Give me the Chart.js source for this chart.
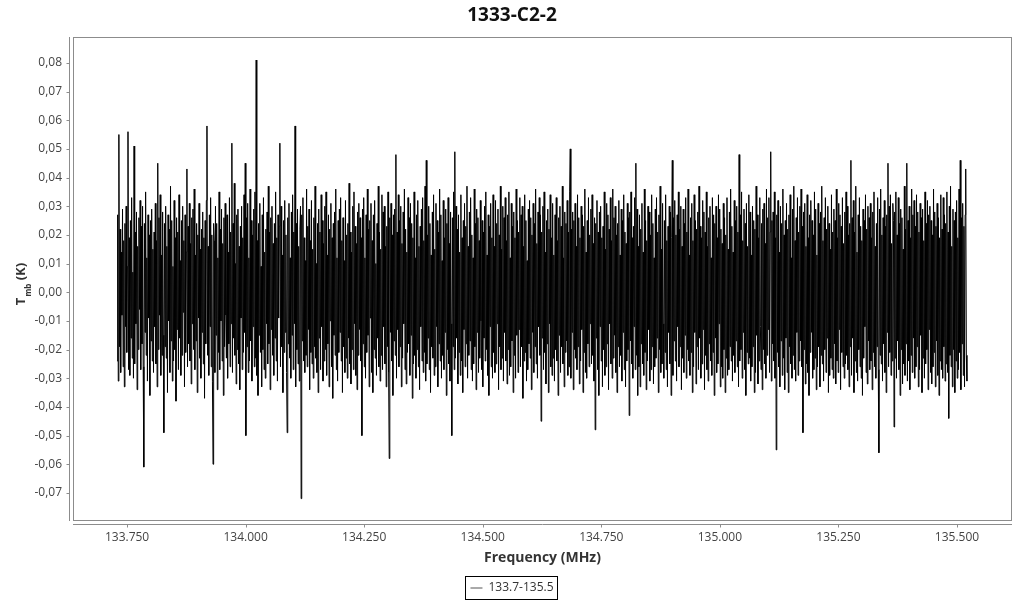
<!DOCTYPE html>
<html><head><meta charset="utf-8">
<script src="https://cdn.jsdelivr.net/npm/chart.js@4.4.1/dist/chart.umd.min.js"></script>
<style>html,body{margin:0;padding:0;background:#fff;}#wrap{width:1024px;height:600px;}</style>
</head><body><div id="wrap"><canvas id="c" width="1024" height="600"></canvas></div>
<script>
const chartTitle = '1333-C2-2';
const seriesName = '133.7-135.5';
const xAxisTitle = 'Frequency (MHz)';
const freqStartMHz = 133.7289;
const freqEndMHz = 135.5210;
// Tmb in mK (channel by channel estimate)
const tmbMilliK = [
-24,27,-31,55,-19,22,-28,14,-8,29,-26,18,-33,24,-12,30,-21,9,56,-27,
19,-29,25,-16,33,-23,7,-30,51,-25,21,-11,28,-34,16,-20,26,-6,32,-27,
23,-18,30,-26,-61,24,-14,35,-22,12,-31,27,-9,20,-36,25,-17,29,-24,15,
-28,21,-12,31,-25,18,-33,45,-20,26,-8,34,-29,13,-22,28,-15,-49,24,-19,
30,-23,16,-35,27,-10,22,-28,37,-17,25,-31,9,-24,32,-20,19,-38,26,-13,
21,-27,34,-16,11,-29,25,-22,30,-7,18,-33,27,-21,14,43,-26,23,-18,31,
-24,17,-32,26,-11,29,-20,36,-27,13,-17,24,-35,20,-9,31,-23,15,-30,22,
-14,28,-25,19,-37,25,-18,32,58,-22,16,-29,27,-12,33,-26,20,-31,-60,24,
18,-28,30,-15,24,-34,12,-21,35,-27,22,-10,29,-24,17,-36,26,-19,31,-8,
-23,27,-30,14,-18,33,-26,21,-11,52,-28,24,-16,38,-22,10,-32,27,-20,29,
-25,16,-34,23,-9,30,-27,19,-21,34,-14,45,-50,26,-19,31,-28,12,-24,36,
-17,25,-31,20,-12,29,-26,35,-23,81,-29,18,-36,24,-15,31,-21,9,-33,27,
-20,33,-27,14,-30,22,-11,28,-25,37,-18,21,-34,26,-13,30,-22,17,-29,24,
-16,35,-24,19,-31,27,-9,23,52,-26,30,-19,13,-35,25,-21,32,-14,20,-28,
-49,26,-18,31,-23,12,-30,28,-15,34,-27,21,-11,58,-33,24,-20,29,-25,16,
-31,22,30,-72,27,-17,33,-24,19,-28,11,-22,36,-26,23,-13,29,-34,18,-21,
32,-25,15,-30,26,-19,37,-23,10,-28,24,-35,29,-16,21,-27,34,-12,25,-31,
17,-24,30,-20,35,-29,13,-18,27,-33,22,-10,31,-26,19,-37,24,-15,28,-22,
36,-27,12,-31,25,-21,29,-14,33,-24,18,-35,26,-19,11,-28,32,-23,20,-30,
24,-16,38,-25,21,-32,14,-20,30,-27,35,-11,23,-29,17,-34,28,-22,31,-13,
26,-24,19,-50,29,-18,33,-26,12,-30,27,-21,36,-15,22,-33,25,-9,31,-28,
18,-35,27,-20,32,-23,10,-29,24,-16,37,-26,21,-31,15,-22,34,-27,28,-12,
30,-25,16,-33,23,-19,35,-28,-58,26,-14,31,-24,20,-36,27,-17,29,-22,48,
-30,21,-13,34,-26,25,-19,30,-33,17,-23,28,-11,36,-27,22,-32,14,-21,33,
-18,26,-29,31,-15,24,-37,19,-25,35,-22,12,-30,27,-20,32,-26,16,-34,23,
-12,29,-24,33,-28,18,-21,37,-31,46,-25,20,-16,30,-27,24,-35,13,-19,28,
-23,34,-29,15,-26,31,-12,25,-33,21,-18,36,-24,27,-30,11,-22,32,-27,19,
-14,29,-36,24,-20,33,-25,17,-31,28,-11,-50,26,-19,35,-27,49,-23,30,-16,
22,-32,27,-21,14,-29,34,-24,19,-35,25,-13,31,-26,23,-18,37,-30,16,-22,
28,-17,33,-27,20,-31,12,-25,36,-19,24,-34,29,-14,26,-28,18,-23,32,-10,
-27,25,-33,21,-16,30,-24,35,-20,13,-29,27,-36,23,-12,31,-26,19,-30,34,
-21,16,-28,32,-25,24,-11,29,-34,20,-19,37,-27,15,-23,30,-31,26,-14,33,
-24,18,-32,27,-20,35,-29,12,-26,31,-17,23,-35,28,-22,19,-30,36,-15,25,
-28,21,-13,33,-26,27,-19,30,-37,16,-24,34,-21,25,-31,11,-27,29,-18,32,
-23,26,-34,20,-14,31,-28,24,-19,36,-25,17,-30,28,-12,33,-22,27,-45,21,
-16,30,-27,35,-21,14,-32,25,-18,29,-35,22,-11,34,-26,19,-29,31,-23,13,
-31,27,-20,33,-24,18,-36,26,-15,30,-28,23,-19,37,-25,12,-33,28,-21,24,
-17,32,-29,21,-26,35,50,-30,22,-14,28,-34,25,-20,31,-23,16,-27,34,-19,
26,-32,19,-24,30,-13,27,-35,23,-21,36,-28,14,-30,25,-18,33,-26,20,-11,
29,-25,34,-22,17,-31,26,-48,24,-16,32,-27,21,-36,28,-12,30,-24,19,-33,
23,-20,35,-29,15,-26,31,-18,27,-34,22,-11,33,-25,18,-30,36,-23,26,-15,
30,-28,20,-35,24,-19,32,-26,13,-22,29,-31,25,-14,34,-27,21,-33,17,-24,
31,-20,26,-43,28,-17,35,-25,19,-30,23,-12,33,-27,45,-22,29,-36,16,-26,
27,-33,22,-18,31,-25,14,-29,36,-21,25,-34,18,-24,30,-13,28,-31,20,-27,
34,-19,24,-32,12,-26,29,-23,33,-16,21,-35,27,-20,37,-28,15,-25,31,-11,
-30,25,-21,34,-27,18,-33,23,-14,30,-25,28,-36,19,46,-29,26,-17,32,-24,
20,-31,27,-12,35,-26,22,-19,30,-34,16,-23,29,-28,24,-15,33,-30,21,-20,
36,-24,13,-29,26,-21,31,-35,18,-26,34,-14,25,-32,22,-19,28,-27,37,-16,
23,-30,19,-25,32,-13,28,-34,21,-22,35,-27,16,-31,26,-18,30,-24,12,-29,
33,-21,27,-36,24,-16,30,-28,19,-25,34,-11,29,-33,22,-26,17,-30,31,-20,
26,-35,20,-23,33,-29,15,-27,28,-19,36,-24,23,-31,14,-22,32,-28,25,-17,
30,-26,21,-33,48,-24,27,-20,35,-30,18,-14,29,-27,24,-36,31,-21,16,-25,
34,-23,28,-31,13,-26,30,-19,25,-35,22,-28,37,-15,27,-32,19,-24,33,-12,
-27,24,-34,29,-20,31,-25,17,-30,36,-22,26,-13,33,-28,21,49,-31,25,-18,
28,-24,35,-30,19,-55,27,-21,32,-26,14,-33,30,-17,24,-29,36,-23,20,-34,
25,-16,31,-28,22,-35,27,-19,34,-25,12,-30,29,-22,37,-27,18,-31,26,-14,
33,-29,21,-24,30,-17,36,-26,23,-49,28,-20,31,-32,16,-25,34,-28,19,-36,
27,-21,32,-14,25,-30,20,-27,35,-23,29,-34,13,-26,31,-19,24,-33,28,-22,
37,-25,18,-31,26,-20,33,-28,22,-16,30,-35,24,-29,15,-23,34,-27,21,-30,
29,-18,25,-32,36,-24,19,-28,31,-13,27,-34,23,-21,33,-26,17,-30,28,-25,
35,-22,30,-27,20,-33,24,-19,46,-29,26,-16,32,-35,21,-24,37,-28,14,-31,
27,-20,33,-26,23,-30,18,-36,29,-23,25,-12,34,-28,22,-32,30,-17,26,-27,
31,-24,19,-34,28,-21,35,-26,16,-30,24,-19,33,-27,-56,29,-22,36,-25,20,
-31,26,-18,32,-28,23,-35,27,-14,45,-26,30,-21,34,-29,17,-24,31,25,-47,
28,-23,35,-30,20,-17,33,-27,24,-36,29,-20,26,-32,15,-25,37,-29,22,-18,
45,-31,25,-24,30,-34,19,-22,36,-28,27,-16,32,-30,23,-26,34,-19,28,-33,
21,-27,31,-15,26,-35,29,-23,18,-30,35,-25,24,-20,32,-34,27,-13,30,-28,
25,-32,20,-26,36,-21,28,-33,23,-17,31,-29,26,-36,19,-24,34,-27,22,-30,
33,-19,27,-31,24,-25,35,-28,21,-44,30,-22,37,-26,16,-33,29,-20,25,-35,
28,-24,32,-30,19,-27,36,-21,46,-34,26,-18,31,-29,23,-33,27,43,-22,-31
];
const yTickValues = [-0.07,-0.06,-0.05,-0.04,-0.03,-0.02,-0.01,0,0.01,0.02,0.03,0.04,0.05,0.06,0.07,0.08];
const xTickValues = [133.75,134.0,134.25,134.5,134.75,135.0,135.25,135.5];
const yMin = -0.0798, yMax = 0.0891;
const xMin = 133.636, xMax = 135.616;

const FONT = "'Open Sans', 'Noto Sans', sans-serif";
const step = (freqEndMHz - freqStartMHz) / (tmbMilliK.length - 1);
const points = tmbMilliK.map((v, i) => ({ x: freqStartMHz + i * step, y: v / 1000 }));

const framePlugin = {
  id: 'frame',
  afterDraw(chart) {
    const ctx = chart.ctx, ca = chart.chartArea;
    const xs = chart.scales.x, ys = chart.scales.y;
    ctx.save();
    ctx.strokeStyle = '#8c8c8c';
    ctx.lineWidth = 1;
    ctx.strokeRect(Math.round(ca.left) + 0.5, Math.round(ca.top) + 0.5, Math.round(ca.right - ca.left) - 1, Math.round(ca.bottom - ca.top) - 1);
    const ax = Math.round(ca.left) - 3.5;
    const ay = Math.round(ca.bottom) + 3.5;
    ctx.beginPath();
    ctx.moveTo(ax, Math.round(ca.top)); ctx.lineTo(ax, Math.round(ca.bottom));
    ctx.moveTo(Math.round(ca.left), ay); ctx.lineTo(Math.round(ca.right), ay);
    yTickValues.forEach(v => { const y = Math.round(ys.getPixelForValue(v)) + 0.5; ctx.moveTo(ax - 3, y); ctx.lineTo(ax, y); });
    xTickValues.forEach(v => { const x = Math.round(xs.getPixelForValue(v)) + 0.5; ctx.moveTo(x, ay); ctx.lineTo(x, ay + 3); });
    ctx.stroke();
    // legend border
    const lg = chart.legend;
    if (lg && lg.legendHitBoxes && lg.legendHitBoxes.length) {
      const hb = lg.legendHitBoxes[0];
      ctx.strokeStyle = '#000';
      ctx.strokeRect(Math.round(hb.left) - 4.5, Math.round(hb.top) - 5.5, Math.round(hb.width) + 9, Math.round(hb.height) + 11);
    }
    // y axis title with subscript
    ctx.fillStyle = '#333';
    const big = 'bold 13px ' + FONT, small = 'bold 8px ' + FONT;
    ctx.font = big; const wT = ctx.measureText('T').width; const wK = ctx.measureText(' (K)').width;
    ctx.font = small; const wS = ctx.measureText('mb').width;
    const total = wT + 1 + wS + wK;
    const cy = 284;
    ctx.translate(25, cy + total / 2);
    ctx.rotate(-Math.PI / 2);
    ctx.textBaseline = 'alphabetic'; ctx.textAlign = 'left';
    ctx.font = big; ctx.fillText('T', 0, 0);
    ctx.font = small; ctx.fillText('mb', wT + 1, 6);
    ctx.font = big; ctx.fillText(' (K)', wT + 1 + wS, 0);
    ctx.restore();
  }
};

new Chart(document.getElementById('c'), {
  type: 'line',
  data: { datasets: [{ label: seriesName, data: points, borderColor: '#000', borderWidth: 1, pointRadius: 0, tension: 0, fill: false }] },
  options: {
    responsive: false, animation: false, devicePixelRatio: 1,
    layout: { padding: { top: 0, right: 12, bottom: -4, left: 12 } },
    plugins: {
      title: { display: true, text: chartTitle, color: '#111', font: { family: FONT, size: 19, weight: 'bold' }, padding: { top: 4, bottom: 10 } },
      legend: {
        display: true, position: 'bottom',
        labels: {
          usePointStyle: true, pointStyle: 'line', pointStyleWidth: 12, boxHeight: 12, padding: 4,
          color: '#333', font: { family: FONT, size: 12 },
          generateLabels(chart) {
            return chart.data.datasets.map((d, i) => ({ text: d.label, strokeStyle: '#555', fillStyle: '#555', lineWidth: 1, pointStyle: 'line', datasetIndex: i, hidden: false, fontColor: '#333' }));
          }
        }
      },
      tooltip: { enabled: false }
    },
    scales: {
      x: {
        type: 'linear', min: xMin, max: xMax,
        afterBuildTicks: s => { s.ticks = xTickValues.map(v => ({ value: v })); },
        afterFit: s => { s.height = 57; },
        ticks: { callback: v => Number(v).toFixed(3), color: '#444', font: { family: FONT, size: 12 }, padding: 9, maxRotation: 0, autoSkip: false },
        grid: { display: false, drawTicks: false },
        border: { display: false },
        title: { display: true, text: xAxisTitle, color: '#333', font: { family: FONT, size: 14, weight: 'bold' }, padding: { top: 0, bottom: 12 } }
      },
      y: {
        type: 'linear', min: yMin, max: yMax,
        afterBuildTicks: s => { s.ticks = yTickValues.map(v => ({ value: v })); },
        afterFit: s => { s.width = 61; },
        ticks: { callback: v => Number(v).toFixed(2).replace('.', ','), color: '#444', font: { family: FONT, size: 12 }, padding: 11, autoSkip: false },
        grid: { display: false, drawTicks: false },
        border: { display: false }
      }
    }
  },
  plugins: [framePlugin]
});
</script></body></html>
